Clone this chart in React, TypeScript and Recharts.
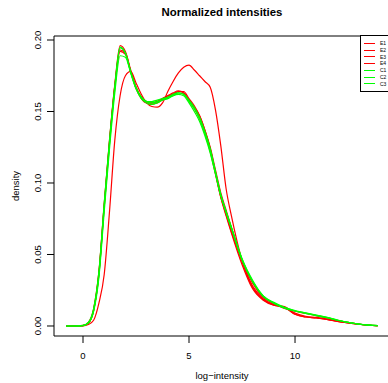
import React from 'react';
import { LineChart, Line, XAxis, YAxis, ReferenceArea, Label } from 'recharts';

const xs = [-0.8, -0.4, 0, 0.25, 0.5, 0.75, 1, 1.25, 1.5, 1.75, 2, 2.25, 2.5, 2.75, 3, 3.25, 3.5, 3.75, 4, 4.25, 4.5, 4.75, 5, 5.25, 5.5, 5.75, 6, 6.25, 6.5, 6.75, 7, 7.5, 8, 8.5, 9, 9.5, 10, 10.5, 11, 11.5, 12, 12.5, 13, 13.5, 13.9];

const e1 = [0, 0, 0.0003, 0.002, 0.011, 0.037, 0.085, 0.13, 0.169, 0.196, 0.192, 0.179, 0.167, 0.16, 0.156, 0.155, 0.156, 0.158, 0.16, 0.162, 0.164, 0.163, 0.158, 0.153, 0.147, 0.137, 0.125, 0.109, 0.093, 0.081, 0.069, 0.046, 0.03, 0.02, 0.0155, 0.0122, 0.0103, 0.0088, 0.0072, 0.0057, 0.004, 0.0025, 0.0013, 0.0006, 0.0002];
const e2 = [0, 0, 0.0001, 0.001, 0.004, 0.016, 0.036, 0.08, 0.13, 0.161, 0.175, 0.178, 0.17, 0.162, 0.156, 0.1535, 0.153, 0.156, 0.164, 0.171, 0.177, 0.181, 0.1825, 0.179, 0.175, 0.171, 0.167, 0.151, 0.126, 0.096, 0.077, 0.046, 0.027, 0.0185, 0.0145, 0.013, 0.0082, 0.0063, 0.0056, 0.0046, 0.0032, 0.0022, 0.0012, 0.0005, 0.0002];
const e3 = [0, 0, 0.0003, 0.002, 0.011, 0.036, 0.083, 0.128, 0.167, 0.192, 0.19, 0.178, 0.167, 0.16, 0.157, 0.156, 0.157, 0.159, 0.161, 0.162, 0.164, 0.164, 0.159, 0.154, 0.147, 0.137, 0.124, 0.107, 0.09, 0.077, 0.065, 0.043, 0.026, 0.018, 0.0145, 0.0135, 0.0082, 0.0063, 0.0056, 0.0046, 0.0032, 0.0022, 0.0012, 0.0005, 0.0002];
const e4 = [0, 0, 0.0004, 0.0025, 0.012, 0.038, 0.085, 0.129, 0.168, 0.193, 0.191, 0.178, 0.166, 0.159, 0.156, 0.156, 0.157, 0.159, 0.161, 0.163, 0.1645, 0.163, 0.158, 0.152, 0.145, 0.135, 0.122, 0.106, 0.09, 0.078, 0.066, 0.045, 0.028, 0.019, 0.015, 0.013, 0.009, 0.0068, 0.006, 0.0049, 0.0034, 0.0023, 0.0013, 0.0005, 0.0002];
const c1 = [0, 0, 0.0003, 0.002, 0.011, 0.036, 0.083, 0.127, 0.166, 0.1945, 0.1905, 0.178, 0.167, 0.16, 0.157, 0.156, 0.157, 0.158, 0.16, 0.161, 0.163, 0.162, 0.157, 0.152, 0.145, 0.135, 0.123, 0.107, 0.091, 0.079, 0.068, 0.046, 0.031, 0.0205, 0.016, 0.0125, 0.0105, 0.009, 0.0075, 0.006, 0.004, 0.0025, 0.0013, 0.0006, 0.0002];
const c2 = [0, 0, 0.0004, 0.0025, 0.012, 0.038, 0.086, 0.13, 0.168, 0.195, 0.191, 0.177, 0.166, 0.159, 0.156, 0.155, 0.156, 0.158, 0.159, 0.161, 0.162, 0.161, 0.156, 0.15, 0.143, 0.133, 0.121, 0.106, 0.091, 0.08, 0.069, 0.047, 0.032, 0.021, 0.0165, 0.013, 0.0105, 0.0088, 0.0072, 0.0058, 0.004, 0.0025, 0.0013, 0.0006, 0.0002];
const c3 = [0, 0, 0.0003, 0.002, 0.01, 0.034, 0.08, 0.124, 0.163, 0.189, 0.188, 0.177, 0.166, 0.16, 0.157, 0.157, 0.158, 0.159, 0.16, 0.162, 0.163, 0.162, 0.158, 0.153, 0.146, 0.136, 0.124, 0.108, 0.092, 0.08, 0.069, 0.047, 0.031, 0.021, 0.016, 0.0128, 0.0108, 0.0092, 0.0076, 0.006, 0.0042, 0.0026, 0.0014, 0.0006, 0.0002];

const seriesNames = ['E1', 'E2', 'E3', 'E4', 'C1', 'C2', 'C3'];
const seriesValues = [e1, e2, e3, e4, c1, c2, c3];
const seriesColors = ['#ff0000', '#ff0000', '#ff0000', '#ff0000', '#00ff00', '#00ff00', '#00ff00'];

const xTicks = [0, 5, 10];
const yTicks = [0, 0.05, 0.1, 0.15, 0.2];
const xDomain = [-1.368, 14.48];
const yDomain = [-0.007, 0.2028];

const data = xs.map((x, i) => {
  const row: Record<string, number> = { x };
  seriesNames.forEach((name, s) => {
    row[name] = seriesValues[s][i];
  });
  return row;
});

const font = '"Liberation Sans", Arial, Helvetica, sans-serif';

const YTick = (props: any) => {
  const { x, y, payload } = props;
  return (
    <text
      transform={`translate(${x - 6}, ${y}) rotate(-90)`}
      textAnchor="middle"
      fontSize={9.5}
      fontFamily={font}
      fill="#000"
    >
      {payload.value.toFixed(2)}
    </text>
  );
};

const XTitle = (props: any) => {
  const { x, y, width, height } = props.viewBox;
  return (
    <text x={x + width / 2} y={y + height - 4} textAnchor="middle" fontSize={9.5} fontFamily={font} fill="#000">
      log−intensity
    </text>
  );
};

const YTitle = (props: any) => {
  const { y, height } = props.viewBox;
  return (
    <text
      transform={`translate(19, ${y + height / 2}) rotate(-90)`}
      textAnchor="middle"
      fontSize={9.5}
      fontFamily={font}
      fill="#000"
    >
      density
    </text>
  );
};

const SeriesLegend = () => (
  <div
    style={{
      position: 'absolute',
      left: 360,
      top: 35,
      border: '1px solid #000',
      background: '#fff',
      padding: '4px 12px 4px 3px',
      fontFamily: font,
      fontSize: 5,
      lineHeight: '6.75px',
    }}
  >
    {seriesNames.map((name, s) => (
      <div key={name} style={{ display: 'flex', alignItems: 'center', height: 6.75 }}>
        <span style={{ display: 'inline-block', width: 11, height: 1, background: seriesColors[s], marginRight: 5 }} />
        <span>{name}</span>
      </div>
    ))}
  </div>
);

export default function App() {
  return (
    <div style={{ position: 'absolute', left: 0, top: 0, width: 388, height: 383, overflow: 'hidden', background: '#fff' }}>
      <svg style={{ position: 'absolute', left: 0, top: 0 }} width={388} height={24}>
        <text x={222} y={16} textAnchor="middle" fontSize={11.4} fontWeight="bold" fontFamily={font} fill="#000">
          Normalized intensities
        </text>
      </svg>
      <LineChart width={400} height={383} data={data} margin={{ top: 36, right: 10, bottom: 0, left: 0 }}>
        <XAxis
          dataKey="x"
          type="number"
          domain={xDomain}
          allowDataOverflow
          ticks={xTicks}
          axisLine={false}
          tickSize={7}
          tickMargin={9}
          tickLine={{ stroke: '#000' }}
          tick={{ fontSize: 9.5, fill: '#000', fontFamily: font }}
          height={47}
          label={<Label content={XTitle} />}
        />
        <YAxis
          type="number"
          domain={yDomain}
          allowDataOverflow
          ticks={yTicks}
          axisLine={false}
          tickSize={7}
          tickMargin={0}
          tickLine={{ stroke: '#000' }}
          tick={<YTick />}
          width={54}
          label={<Label content={YTitle} />}
        />
        <ReferenceArea
          x1={xDomain[0]}
          x2={xDomain[1]}
          y1={yDomain[0]}
          y2={yDomain[1]}
          fill="none"
          stroke="#000"
          strokeWidth={1}
          ifOverflow="visible"
        />
        {seriesNames.map((name, s) => (
          <Line
            key={name}
            type="monotone"
            dataKey={name}
            name={name}
            stroke={seriesColors[s]}
            strokeWidth={1.2}
            dot={false}
            isAnimationActive={false}
          />
        ))}
      </LineChart>
      <SeriesLegend />
    </div>
  );
}
